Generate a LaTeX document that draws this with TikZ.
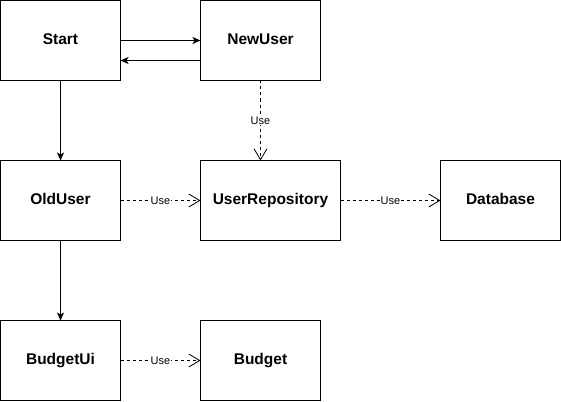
\documentclass[tikz,border=0pt]{standalone}
\usepackage{fontspec}
\setmainfont{Liberation Sans}
\usetikzlibrary{positioning,arrows.meta}
\tikzset{
  box/.style={draw=black, line width=1pt, align=center, font=\fontsize{15.5}{18}\selectfont\bfseries, minimum width=120pt, minimum height=80pt, inner sep=0pt, outer sep=0pt, text height=11.5pt, text depth=3.3pt},
  wide box/.style={box, minimum width=140pt},
  call arrow/.style={line width=1pt, -{Stealth[length=8pt,width=7pt,inset=2pt]}},
  use arrow/.style={line width=0.8pt, dash pattern=on 3pt off 3pt, -{Straight Barb[length=11pt,width=13pt,line width=0.8pt]}},
  use label/.style={font=\fontsize{11}{12}\selectfont, fill=white, inner sep=0.5pt},
}

\begin{document}
\begin{tikzpicture}[x=1pt,y=-1pt,node distance=80pt]
\useasboundingbox (0,0) rectangle (561,401);
% the nodes
\node [box] (start) at (60.5,40.5) {Start};
\node [box,right=of start] (newUser) {NewUser};
\node [box,below=of start] (oldUser) {OldUser};
\node [wide box,right=of oldUser] (userRepo) {UserRepository};
\node [box,right=100pt of userRepo] (database) {Database};
\node [box,below=of oldUser] (budgetUi) {BudgetUi};
\node [box,right=of budgetUi] (budget) {Budget};
% solid calls
\draw[call arrow] (start.east) -- (newUser.west);
\draw[call arrow] ([yshift=-20pt]newUser.west) -- ([yshift=-20pt]start.east);
\draw[call arrow] (start.south) -- (oldUser.north);
\draw[call arrow] (oldUser.south) -- (budgetUi.north);
% dashed uses
\draw[use arrow] (newUser.south) -- (newUser.south |- userRepo.north) node[midway,use label] {Use};
\draw[use arrow] (oldUser.east) -- (userRepo.west) node[midway,use label] {Use};
\draw[use arrow] (userRepo.east) -- (database.west) node[midway,use label] {Use};
\draw[use arrow] (budgetUi.east) -- (budget.west) node[midway,use label] {Use};
\end{tikzpicture}
\end{document}
